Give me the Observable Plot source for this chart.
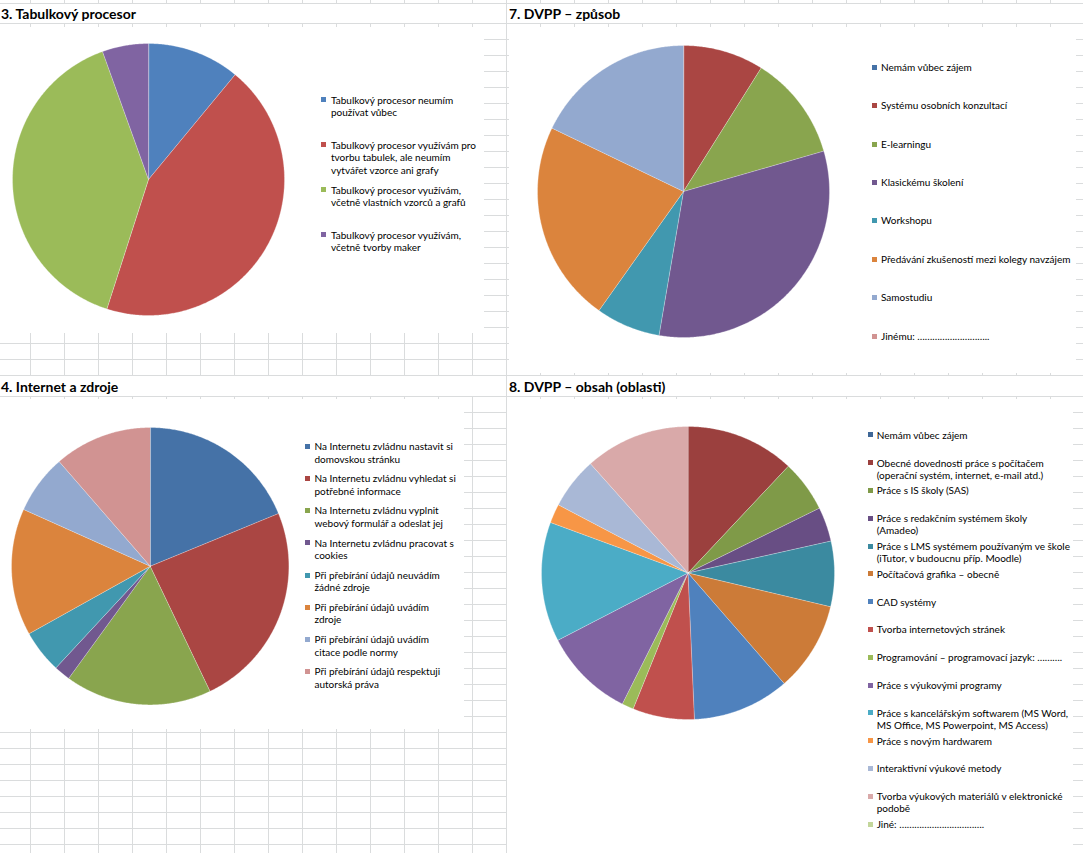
<!DOCTYPE html>
<html>
<head>
<meta charset="utf-8">
<script src="https://cdn.jsdelivr.net/npm/d3@7"></script>
<script src="https://cdn.jsdelivr.net/npm/@observablehq/plot@0.6"></script>
<style>
html, body { margin: 0; padding: 0; background: #fff; }
body { width: 1083px; height: 853px; position: relative; overflow: hidden; font-family: Lato, "Open Sans", sans-serif; color: #000; }
.gl { position: absolute; background: #dadcdd; }
.area { position: absolute; background: #fff; }
.title { position: absolute; font-weight: bold; font-size: 14px; line-height: 20px; white-space: nowrap; }
.leg { position: absolute; font-size: 10px; white-space: pre; }
.sw { position: absolute; width: 5px; height: 5px; }
.pie { position: absolute; display: block; background: transparent; }
</style>
</head>
<body>
<script>
// ---------- DATA ----------
const procesorTitle = "3. Tabulkový procesor";
const procesorLabels = [
  "Tabulkový procesor neumím\npoužívat vůbec",
  "Tabulkový procesor využívám pro\ntvorbu tabulek, ale neumím\nvytvářet vzorce ani grafy",
  "Tabulkový procesor využívám,\nvčetně vlastních vzorců a grafů",
  "Tabulkový procesor využívám,\nvčetně tvorby maker"
];
const procesorValues = [10, 40, 36, 5];
const procesorColors = ["#4F81BD", "#C0504D", "#9BBB59", "#8064A2"];

const zpusobTitle = "7. DVPP – způsob";
const zpusobLabels = [
  "Nemám vůbec zájem",
  "Systému osobních konzultací",
  "E-learningu",
  "Klasickému školení",
  "Workshopu",
  "Předávání zkušeností mezi kolegy navzájem",
  "Samostudiu",
  "Jinému: ……………………….."
];
const zpusobValues = [0, 10, 13, 36, 8, 25, 20, 0];
const zpusobColors = ["#4572A7", "#AA4643", "#89A54E", "#71588F", "#4198AF", "#DB843D", "#93A9CF", "#D19392"];

const internetTitle = "4. Internet a zdroje";
const internetLabels = [
  "Na Internetu zvládnu nastavit si\ndomovskou stránku",
  "Na Internetu zvládnu vyhledat si\npotřebné informace",
  "Na Internetu zvládnu vyplnit\nwebový formulář a odeslat jej",
  "Na Internetu zvládnu pracovat s\ncookies",
  "Při přebírání údajů neuvádím\nžádné zdroje",
  "Při přebírání údajů uvádím\nzdroje",
  "Při přebírání údajů uvádím\ncitace podle normy",
  "Při přebírání údajů respektuji\nautorská práva"
];
const internetValues = [18.8, 24.1, 17.1, 1.9, 5.0, 14.8, 6.9, 11.4];
const internetColors = ["#4572A7", "#AA4643", "#89A54E", "#71588F", "#4198AF", "#DB843D", "#93A9CF", "#D19392"];

const obsahTitle = "8. DVPP – obsah (oblasti)";
const obsahLabels = [
  "Nemám vůbec zájem",
  "Obecné dovednosti práce s počítačem\n(operační systém, internet, e-mail atd.)",
  "Práce s IS školy (SAS)",
  "Práce s redakčním systémem školy\n(Amadeo)",
  "Práce s LMS systémem používaným ve škole\n(iTutor, v budoucnu příp. Moodle)",
  "Počítačová grafika – obecně",
  "CAD systémy",
  "Tvorba internetových stránek",
  "Programování – programovací jazyk: ……….",
  "Práce s výukovými programy",
  "Práce s kancelářským softwarem (MS Word,\nMS Office, MS Powerpoint, MS Access)",
  "Práce s novým hardwarem",
  "Interaktivní výukové metody",
  "Tvorba výukových materiálů v elektronické\npodobě",
  "Jiné: ……………………………."
];
const obsahValues = [0, 12.0, 5.7, 3.8, 7.2, 9.9, 10.7, 6.8, 1.3, 10.0, 13.2, 2.1, 5.7, 11.6, 0];
const obsahColors = ["#3F6797", "#9B403E", "#7F9A48", "#684E84", "#3B8AA0", "#CC7B38", "#4F81BD", "#C0504D", "#9BBB59", "#8064A2", "#4BACC6", "#F79646", "#A9B8D6", "#D9A9A9", "#C3D69B"];

// ---------- SHEET GRID (decoration) ----------
function el(cls, css, text) {
  const d = document.createElement("div");
  d.className = cls;
  Object.assign(d.style, css);
  if (text != null) d.textContent = text;
  document.body.appendChild(d);
  return d;
}
const W = 1083, H = 853;
const hLines = [3, ...d3.range(23, 376, 16), 396, ...d3.range(412, H, 16)];
hLines.forEach(y => el("gl", {left: "0px", top: y + "px", width: W + "px", height: "1px"}));
d3.range(30, W, 34).forEach(x => {
  const segs = x === 506 ? [[0, H]] : [[0, 3], [23, 376], [396, H]];
  segs.forEach(([a, b]) => el("gl", {left: x + "px", top: a + "px", width: "1px", height: (b - a) + "px"}));
});

// ---------- CHARTS ----------
function pieChart(labels, values, colors, r) {
  const total = d3.sum(values);
  const pts = [];
  let cum = 0;
  labels.forEach((lab, i) => {
    const v = values[i];
    if (v > 0) {
      const a0 = cum / total * 2 * Math.PI, a1 = (cum + v) / total * 2 * Math.PI;
      const n = Math.max(2, Math.ceil((a1 - a0) / (Math.PI / 360)));
      pts.push({label: lab, x: 0, y: 0});
      for (let k = 0; k <= n; k++) {
        const a = a0 + (a1 - a0) * k / n;
        pts.push({label: lab, x: Math.sin(a), y: Math.cos(a)});
      }
    }
    cum += v;
  });
  return Plot.plot({
    width: 2 * r + 2, height: 2 * r + 2, margin: 1,
    x: {domain: [-1, 1], axis: null},
    y: {domain: [-1, 1], axis: null},
    color: {domain: labels, range: colors},
    marks: [
      Plot.line(pts, {x: "x", y: "y", z: "label", fill: "label", stroke: "white",
        strokeWidth: 0.5, strokeOpacity: 0.6, curve: "linear-closed"})
    ]
  });
}

const charts = [
  {title: procesorTitle, labels: procesorLabels, values: procesorValues, colors: procesorColors,
   tx: 1, ty: 4, area: [0, 27, 484, 306], cx: 148, cy: 179, r: 136,
   leg: {sx: 321, tx: 331, top: 93.5, step: 45, lh: 12.8}},
  {title: zpusobTitle, labels: zpusobLabels, values: zpusobValues, colors: zpusobColors,
   tx: 509, ty: 4, area: [509, 27, 567, 346], cx: 682.5, cy: 191, r: 146,
   leg: {sx: 872, tx: 881, top: 60.8, step: 38.4, lh: 12.8}},
  {title: internetTitle, labels: internetLabels, values: internetValues, colors: internetColors,
   tx: 1, ty: 377, area: [0, 399, 464, 330], cx: 150, cy: 565.5, r: 138.7,
   leg: {sx: 305, tx: 314.5, top: 440.2, step: 32.14, lh: 12.6}},
  {title: obsahTitle, labels: obsahLabels, values: obsahValues, colors: obsahColors,
   tx: 509, ty: 377, area: [507, 399, 566, 460], cx: 687, cy: 572, r: 146.5,
   leg: {sx: 868.3, tx: 876.7, top: 428.8, step: 27.8, lh: 12.3}}
];

charts.forEach(c => {
  const [ax, ay, aw, ah] = c.area;
  el("area", {left: ax + "px", top: ay + "px", width: aw + "px", height: ah + "px"});
  el("title", {left: c.tx + "px", top: c.ty + "px"}, c.title);
  const svg = pieChart(c.labels, c.values, c.colors, c.r);
  svg.classList.add("pie");
  svg.style.left = (c.cx - c.r - 1) + "px";
  svg.style.top = (c.cy - c.r - 1) + "px";
  svg.style.maxWidth = "none";
  svg.style.background = "transparent";
  document.body.appendChild(svg);
  c.labels.forEach((lab, i) => {
    const top = c.leg.top + i * c.leg.step;
    el("sw", {left: c.leg.sx + "px", top: (top + c.leg.lh / 2 - 2.5) + "px", background: c.colors[i]});
    el("leg", {left: c.leg.tx + "px", top: top + "px", lineHeight: c.leg.lh + "px"}, lab);
  });
});
</script>
</body>
</html>
